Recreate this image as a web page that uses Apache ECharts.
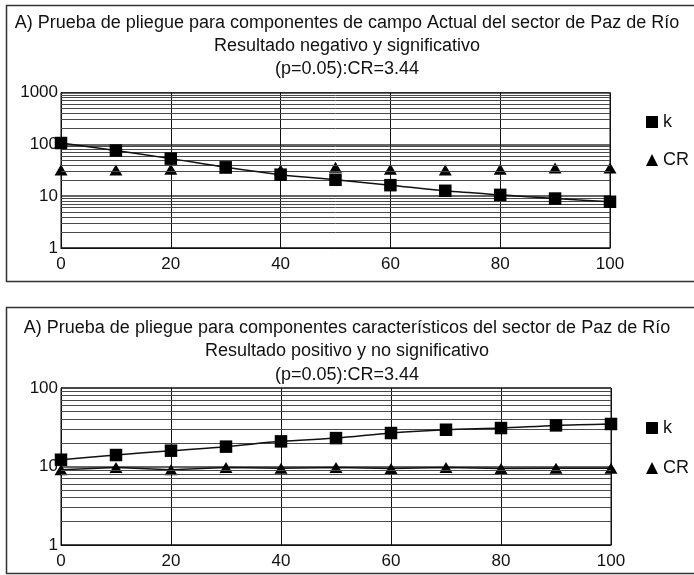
<!DOCTYPE html>
<html>
<head>
<meta charset="utf-8">
<script src="https://cdn.jsdelivr.net/npm/echarts@6/dist/echarts.min.js"></script>
<style>html,body{margin:0;padding:0;background:#fff;}#c{width:694px;height:575px;}</style>
</head>
<body>
<div id="c"></div>
<script>
const xValues = [0, 10, 20, 30, 40, 50, 60, 70, 80, 90, 100];
const topK  = [106, 76, 53, 36, 26, 20.7, 16.3, 12.7, 10.6, 9, 7.8];
const topCR = [32, 32, 33, 35, 32, 36, 33, 32, 33, 35, 35];
const botK  = [12.2, 14, 15.9, 17.9, 20.9, 23, 26.7, 29.4, 30.9, 33.4, 34.8];
const botCR = [9.1, 9.7, 9.1, 9.7, 9.5, 9.7, 9.4, 9.7, 9.4, 9.5, 9.5];
const topTitle = 'A) Prueba de pliegue para componentes de campo Actual del sector de Paz de Río\nResultado negativo y significativo\n(p=0.05):CR=3.44';
const botTitle = 'A) Prueba de pliegue para componentes característicos del sector de Paz de Río\nResultado positivo y no significativo\n(p=0.05):CR=3.44';
const minorTop = [2,3,4,5,6,7,8,9,20,30,40,50,60,70,80,90,200,300,400,500,600,700,800,900];
const minorBot = [2,3,4,5,6,7,8,9,20,30,40,50,60,70,80,90];

const FONT = 'Liberation Sans';
const pair = (xs, ys) => xs.map((x, i) => [x, ys[i]]);
const gridLines = (vals, idx) => ({
  type: 'line', xAxisIndex: idx, yAxisIndex: idx, data: [], silent: true, z: 1,
  markLine: {
    silent: true, symbol: ['none', 'none'], label: {show: false},
    lineStyle: {color: '#4a4a4a', width: 1, type: 'solid'},
    emphasis: {disabled: true},
    data: vals.map(v => ({yAxis: v}))
  }
});
const xAx = (idx) => ({
  type: 'value', gridIndex: idx, min: 0, max: 100, interval: 20,
  axisLine: {show: true, onZero: false, lineStyle: {color: '#111', width: 1}},
  axisTick: {show: false},
  axisLabel: {color: '#111', fontSize: 17, fontFamily: FONT, margin: 8},
  splitLine: {show: true, lineStyle: {color: '#111', width: 1}}
});
const yAx = (idx, max) => ({
  type: 'log', logBase: 10, gridIndex: idx, min: 1, max: max,
  axisLine: {show: true, lineStyle: {color: '#111', width: 1}},
  axisTick: {show: false},
  axisLabel: {color: '#111', fontSize: 17, fontFamily: FONT, margin: 3, formatter: v => String(Math.round(v))},
  splitLine: {show: true, lineStyle: {color: '#333', width: 1.5}}
});

const chart = echarts.init(document.getElementById('c'), null, {renderer: 'canvas'});
chart.setOption({
  backgroundColor: '#fff',
  animation: false,
  textStyle: {fontFamily: FONT},
  graphic: [
    {type: 'rect', shape: {x: 6.5, y: 5.5, width: 700, height: 276}, style: {fill: 'none', stroke: '#333', lineWidth: 1.5}, silent: true},
    {type: 'rect', shape: {x: 6.5, y: 307.5, width: 700, height: 266}, style: {fill: 'none', stroke: '#333', lineWidth: 1.5}, silent: true}
  ],
  title: [
    {text: topTitle, left: 347, top: 11.5, textAlign: 'center', padding: 0,
     textStyle: {fontSize: 18, fontWeight: 'normal', color: '#111', lineHeight: 23, fontFamily: FONT}},
    {text: botTitle, left: 347, top: 316, textAlign: 'center', padding: 0,
     textStyle: {fontSize: 18, fontWeight: 'normal', color: '#111', lineHeight: 23.5, fontFamily: FONT}}
  ],
  legend: [
    {orient: 'vertical', left: 641, top: 108, itemGap: 20, itemWidth: 12, itemHeight: 12,
     textStyle: {fontSize: 18, color: '#111', fontFamily: FONT},
     data: [{name: 'k', icon: 'rect'}, {name: 'CR', icon: 'triangle'}]},
    {orient: 'vertical', left: 641, top: 414, itemGap: 22, itemWidth: 12, itemHeight: 12,
     textStyle: {fontSize: 18, color: '#111', fontFamily: FONT},
     data: [{name: 'k', icon: 'rect'}, {name: 'CR', icon: 'triangle'}]}
  ],
  grid: [
    {left: 61, top: 92.5, width: 549, height: 155.5, show: true, borderColor: '#111', borderWidth: 1, backgroundColor: 'transparent'},
    {left: 61, top: 388, width: 550, height: 157, show: true, borderColor: '#111', borderWidth: 1, backgroundColor: 'transparent'}
  ],
  xAxis: [xAx(0), xAx(1)],
  yAxis: [yAx(0, 1000), yAx(1, 100)],
  series: [
    gridLines(minorTop, 0),
    gridLines(minorBot, 1),
    {name: 'k', type: 'line', xAxisIndex: 0, yAxisIndex: 0, data: pair(xValues, topK), z: 5,
     smooth: 0.3, symbol: 'rect', symbolSize: 12.5, itemStyle: {color: '#000', opacity: 1}, lineStyle: {color: '#111', width: 1.5}},
    {name: 'CR', type: 'scatter', xAxisIndex: 0, yAxisIndex: 0, data: pair(xValues, topCR), z: 4,
     symbol: 'triangle', symbolSize: [13, 11], itemStyle: {color: '#000', opacity: 1}},
    {name: 'k', type: 'line', xAxisIndex: 1, yAxisIndex: 1, data: pair(xValues, botK), z: 5,
     smooth: 0.3, symbol: 'rect', symbolSize: 12.5, itemStyle: {color: '#000', opacity: 1}, lineStyle: {color: '#111', width: 1.5}},
    {name: 'CR', type: 'line', xAxisIndex: 1, yAxisIndex: 1, data: pair(xValues, botCR), z: 4,
     symbol: 'triangle', symbolSize: [13, 11], itemStyle: {color: '#000', opacity: 1}, lineStyle: {color: '#111', width: 1.5}}
  ]
});
</script>
</body>
</html>
